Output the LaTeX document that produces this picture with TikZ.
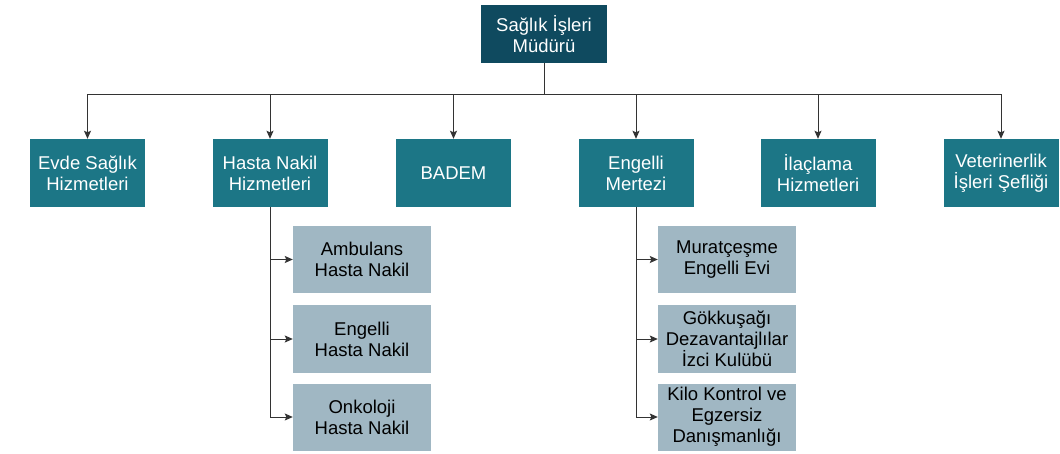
\documentclass[tikz,border=0pt]{standalone}
\usepackage{fontspec}
\setmainfont{Liberation Sans}
\usetikzlibrary{arrows.meta}
\definecolor{topc}{HTML}{0F4A5F}
\definecolor{midc}{HTML}{1C7686}
\definecolor{lowc}{HTML}{A0B7C3}
\definecolor{linec}{HTML}{333333}
\begin{document}
\begin{tikzpicture}[x=1pt,y=-1pt,
  base/.style={rectangle,inner sep=0pt,align=center,font=\fontsize{18.5}{21}\selectfont},
  topbox/.style={base,fill=topc,text=white,minimum width=126pt,minimum height=58pt},
  midbox/.style={base,fill=midc,text=white,minimum width=115pt,minimum height=68pt},
  lowbox/.style={base,fill=lowc,text=black,minimum width=138pt,minimum height=67pt},
  arr/.style={draw=linec,line width=1pt,-{Stealth[length=8pt,width=7pt,inset=1.5pt]}}]
\useasboundingbox (0,0) rectangle (1060,454);
\node[topbox] (top) at (544,34) {Sağlık İşleri\\Müdürü};
\node[midbox] (evde) at (87.5,173) {Evde Sağlık\\Hizmetleri};
\node[midbox] (hasta) at (270,173) {Hasta Nakil\\Hizmetleri};
\node[midbox] (badem) at (453.5,173) {BADEM};
\node[midbox] (engelli) at (636,173) {Engelli\\Mertezi};
\node[midbox] (ilac) at (818,173) {İlaçlama\\Hizmetleri};
\node[midbox] (vet) at (1001,173) {Veterinerlik\\İşleri Şefliği};
\node[lowbox] (amb) at (362,259.5) {Ambulans\\Hasta Nakil};
\node[lowbox] (ehn) at (362,339) {Engelli\\Hasta Nakil};
\node[lowbox] (onk) at (362,417) {Onkoloji\\Hasta Nakil};
\node[lowbox] (mur) at (727,259.5) {Muratçeşme\\Engelli Evi};
\node[lowbox] (gok) at (727,339) {Gökkuşağı\\Dezavantajlılar\\İzci Kulübü};
\node[lowbox] (kilo) at (727,417) {Kilo Kontrol ve\\Egzersiz\\Danışmanlığı};
\coordinate (bus) at (544,95);
\foreach \n in {evde,hasta,badem,engelli,ilac,vet}
  \draw[arr] (top.south) -- (bus) -| (\n.north);
\foreach \n in {amb,ehn,onk}
  \draw[arr] (hasta.south) |- (\n.west);
\foreach \n in {mur,gok,kilo}
  \draw[arr] (engelli.south) |- (\n.west);
\end{tikzpicture}
\end{document}
